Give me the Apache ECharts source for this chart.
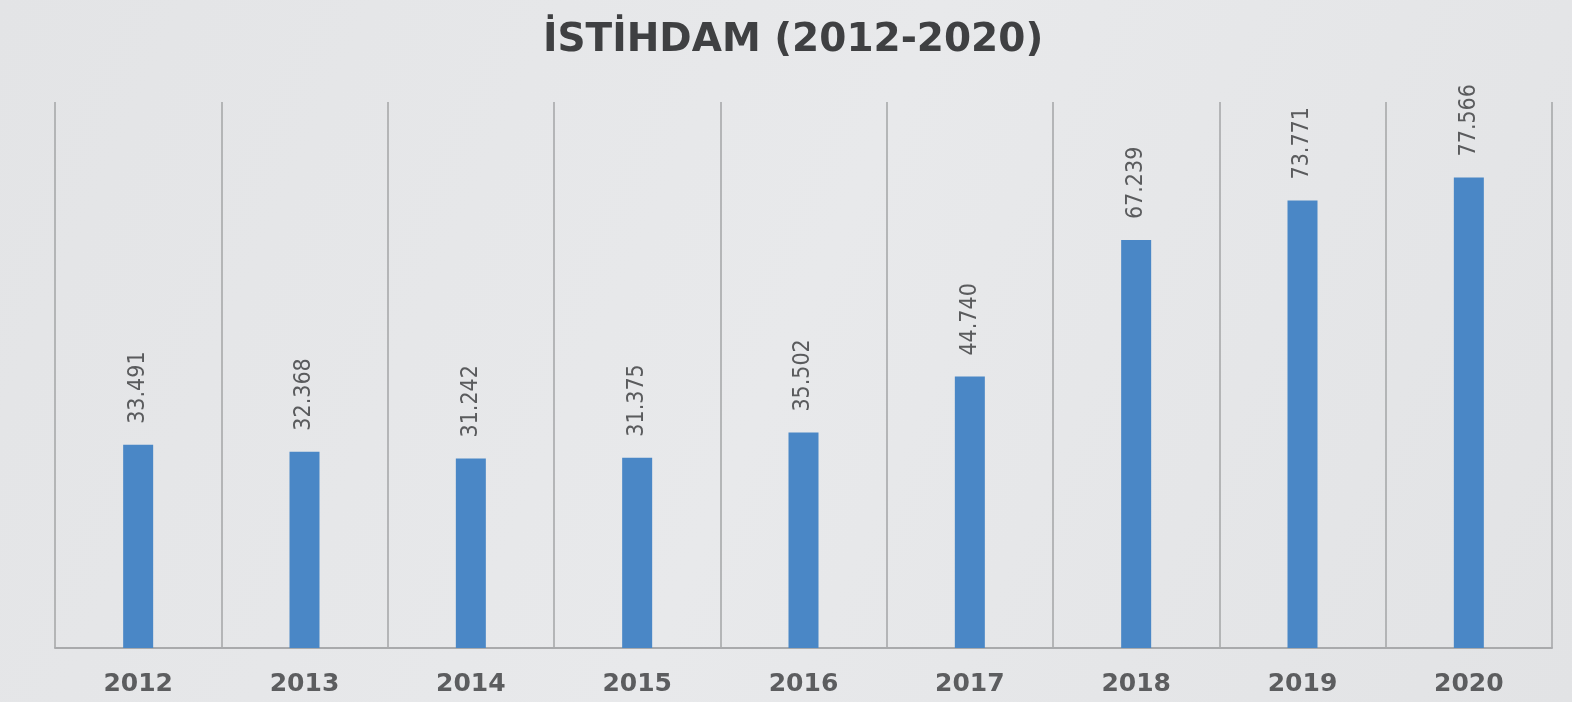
<!DOCTYPE html>
<html>
<head>
<meta charset="utf-8">
<title>İstihdam 2012-2020</title>
<script src="https://cdn.jsdelivr.net/npm/echarts@6/dist/echarts.min.js"></script>
<style>
    html, body { margin: 0; padding: 0; }
    #chart { width: 1572px; height: 702px; }
</style>
</head>
<body>
<div id="chart"></div>
<script>
// yıllar ve istihdam değerleri
var years = ['2012', '2013', '2014', '2015', '2016', '2017', '2018', '2019', '2020'];
var values = [33.491, 32.368, 31.242, 31.375, 35.502, 44.740, 67.239, 73.771, 77.566];

// etiketler resimdeki gibi nokta ile ayrılmış üç basamak
function fmt(v) {
    return v.toFixed(3);
}

var myChart = echarts.init(document.getElementById('chart'));

var option = {
    backgroundColor: {
        type: 'linear', x: 0, y: 0, x2: 1, y2: 1,
        colorStops: [
            { offset: 0, color: '#e3e4e6' },
            { offset: 0.5, color: '#e8e9eb' },
            { offset: 1, color: '#e2e3e5' }
        ]
    },
    title: {
        text: 'İSTİHDAM (2012-2020)',
        left: 538,
        top: 16,
        textStyle: {
            fontFamily: 'DejaVu Sans',
            fontWeight: 'bold',
            fontSize: 39,
            color: '#3f4042'
        }
    },
    grid: {
        left: 55,
        right: 20,
        top: 102,
        bottom: 54
    },
    xAxis: {
        type: 'category',
        data: years,
        boundaryGap: true,
        axisLine: { lineStyle: { color: '#a9aaac', width: 2 } },
        axisTick: { show: false },
        axisLabel: {
            margin: 24,
            fontFamily: 'DejaVu Sans',
            fontWeight: 'bold',
            fontSize: 25,
            color: '#5c5d5f'
        },
        splitLine: {
            show: true,
            lineStyle: { color: '#a3a4a6', width: 1.5 }
        }
    },
    yAxis: {
        type: 'value',
        min: 0,
        max: 90,
        show: false,
        splitLine: { show: false }
    },
    series: [{
        name: 'İstihdam',
        type: 'bar',
        data: values,
        barWidth: 30,
        itemStyle: { color: '#4a87c6' },
        label: {
            show: true,
            position: 'top',
            rotate: 90,
            align: 'left',
            verticalAlign: 'middle',
            distance: 21,
            fontFamily: '"DejaVu Sans Condensed", "Liberation Sans", sans-serif',
            fontSize: 23,
            color: '#5a5b5d',
            formatter: function (p) { return fmt(p.value); }
        }
    }]
};

myChart.setOption(option);
</script>
</body>
</html>
